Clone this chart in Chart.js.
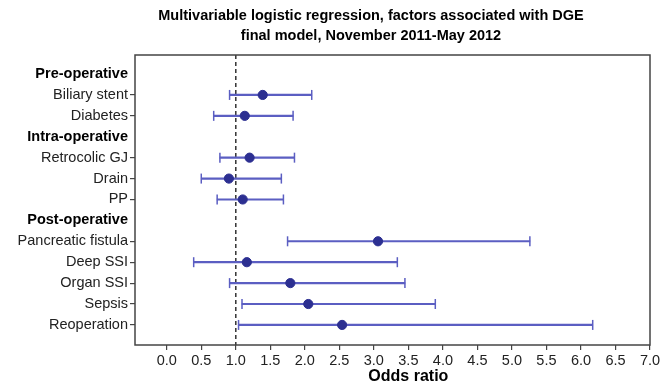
<!DOCTYPE html>
<html>
<head>
<meta charset="utf-8">
<script src="https://cdn.jsdelivr.net/npm/chart.js@4"></script>
<style>
  html, body { margin: 0; padding: 0; background: #fff; }
  #wrap { width: 666px; height: 385px; }
</style>
</head>
<body>
<div id="wrap"><canvas id="chart"></canvas></div>
<script>
const titleLines = ['Multivariable logistic regression, factors associated with DGE', 'final model, November 2011-May 2012'];
const xTitle = 'Odds ratio';

const rowLabels = ['Pre-operative', 'Biliary stent', 'Diabetes', 'Intra-operative', 'Retrocolic GJ', 'Drain', 'PP',
  'Post-operative', 'Pancreatic fistula', 'Deep SSI', 'Organ SSI', 'Sepsis', 'Reoperation'];
const headerRows = ['Pre-operative', 'Intra-operative', 'Post-operative'];

const oddsRatio = [null, 1.39, 1.13, null, 1.20, 0.90, 1.10, null, 3.06, 1.16, 1.79, 2.05, 2.54];
const ciLow     = [null, 0.91, 0.68, null, 0.77, 0.50, 0.73, null, 1.75, 0.39, 0.91, 1.09, 1.04];
const ciHigh    = [null, 2.10, 1.83, null, 1.85, 1.66, 1.69, null, 5.26, 3.34, 3.45, 3.89, 6.17];

const xTicks = [0.0, 0.5, 1.0, 1.5, 2.0, 2.5, 3.0, 3.5, 4.0, 4.5, 5.0, 5.5, 6.0, 6.5, 7.0];
const refValue = 1.0;

const font = '"Liberation Sans", Arial, Helvetica, sans-serif';
const dotColor = '#2c2f91';
const barColor = '#5b5ec2';
const axisColor = '#444';
const textColor = '#222';

const isHeader = (i) => headerRows.includes(rowLabels[i]);

const rows = rowLabels.map((_, i) => i).filter((i) => oddsRatio[i] !== null);

const decorations = {
  id: 'decorations',
  beforeDatasetsDraw(chart) {
    const { ctx, chartArea, scales } = chart;
    const x = scales.x.getPixelForValue(refValue);
    ctx.save();
    ctx.strokeStyle = '#333';
    ctx.lineWidth = 1.5;
    ctx.setLineDash([4, 3]);
    ctx.beginPath();
    ctx.moveTo(x, chartArea.top);
    ctx.lineTo(x, chartArea.bottom);
    ctx.stroke();
    ctx.restore();
  },
  afterDraw(chart) {
    const { ctx, chartArea, scales } = chart;
    ctx.save();
    ctx.strokeStyle = axisColor;
    ctx.lineWidth = 1.5;
    ctx.strokeRect(chartArea.left, chartArea.top, chartArea.right - chartArea.left, chartArea.bottom - chartArea.top);

    ctx.fillStyle = '#000';
    ctx.textAlign = 'center';
    ctx.textBaseline = 'middle';
    ctx.font = `bold 14.5px ${font}`;
    ctx.fillText(titleLines[0], 371, 16);
    ctx.fillText(titleLines[1], 371, 35.5);

    ctx.font = `bold 16px ${font}`;
    ctx.fillText(xTitle, scales.x.getPixelForValue((xTicks[0] + xTicks[xTicks.length - 1]) / 2), chartArea.bottom + 32);
    ctx.restore();
  }
};

new Chart(document.getElementById('chart'), {
  type: 'bar',
  data: {
    datasets: [
      {
        type: 'bar',
        data: rows.map((i) => ({ x: [ciLow[i], ciHigh[i]], y: i })),
        backgroundColor: barColor,
        borderWidth: 0,
        barThickness: 1.5,
        order: 3
      },
      {
        type: 'scatter',
        data: rows.flatMap((i) => [{ x: ciLow[i], y: i }, { x: ciHigh[i], y: i }]),
        pointStyle: 'line',
        rotation: 90,
        pointRadius: 5,
        borderWidth: 1.5,
        borderColor: barColor,
        order: 2
      },
      {
        type: 'scatter',
        data: rows.map((i) => ({ x: oddsRatio[i], y: i })),
        pointStyle: 'circle',
        pointRadius: 4.6,
        backgroundColor: dotColor,
        borderColor: dotColor,
        borderWidth: 1,
        order: 1
      }
    ]
  },
  options: {
    indexAxis: 'y',
    responsive: true,
    maintainAspectRatio: false,
    animation: false,
    layout: { padding: { top: 55, right: 16, left: 0, bottom: 0 } },
    plugins: {
      legend: { display: false },
      tooltip: { enabled: false },
      title: { display: false }
    },
    scales: {
      x: {
        type: 'linear',
        min: -0.46,
        max: 7.0,
        offset: false,
        afterBuildTicks: (scale) => { scale.ticks = xTicks.map((v) => ({ value: v })); },
        afterFit: (scale) => { scale.height = 40; },
        grid: { drawOnChartArea: false, offset: false, color: axisColor, tickLength: 5, lineWidth: 1.2 },
        border: { display: false },
        ticks: {
          color: textColor,
          font: { family: font, size: 14.5 },
          padding: 2,
          maxRotation: 0,
          autoSkip: false,
          callback: (value) => Number(value).toFixed(1)
        }
      },
      y: {
        type: 'linear',
        reverse: true,
        min: -0.91,
        max: 12.96,
        offset: false,
        afterBuildTicks: (scale) => { scale.ticks = rowLabels.map((_, i) => ({ value: i })); },
        afterFit: (scale) => { scale.width = 135; },
        grid: {
          drawOnChartArea: false,
          offset: false,
          tickLength: 5,
          lineWidth: 1.2,
          color: (ctx) => (ctx.tick && isHeader(ctx.tick.value) ? 'rgba(0,0,0,0)' : axisColor)
        },
        border: { display: false },
        ticks: {
          autoSkip: false,
          padding: 2,
          color: (ctx) => (ctx.tick && isHeader(ctx.tick.value) ? '#000' : textColor),
          font: (ctx) => ({
            family: font,
            size: 14.5,
            weight: ctx.tick && isHeader(ctx.tick.value) ? 'bold' : 'normal'
          }),
          callback: (value) => rowLabels[value]
        }
      }
    }
  },
  plugins: [decorations]
});
</script>
</body>
</html>
